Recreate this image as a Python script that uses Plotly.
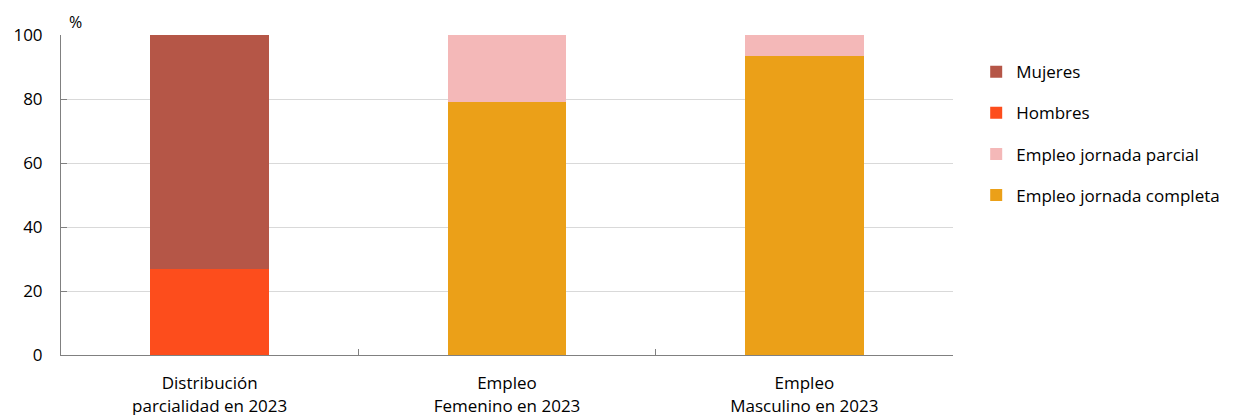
import plotly.graph_objects as go

categories = ["Distribución<br>parcialidad en 2023", "Empleo<br>Femenino en 2023", "Empleo<br>Masculino en 2023"]
hombres = [27, None, None]
mujeres = [73, None, None]
completa = [None, 79, 93.5]
parcial = [None, 21, 6.5]
y_ticks = [0, 20, 40, 60, 80, 100]

font = "'Open Sans', sans-serif"
fig = go.Figure()
series = [
    ("Hombres", hombres, "#FD4D1C", 2),
    ("Mujeres", mujeres, "#B55647", 1),
    ("Empleo jornada completa", completa, "#EBA018", 4),
    ("Empleo jornada parcial", parcial, "#F4B8B8", 3),
]
for name, vals, col, rank in series:
    fig.add_trace(go.Bar(x=categories, y=vals, name=name, marker_color=col,
                         marker_line_width=0, width=0.4, legendrank=rank,
                         legendgroup=name))

fig.update_layout(
    barmode="stack",
    width=1225, height=407,
    margin=dict(l=53, r=280, t=27, b=60, autoexpand=False),
    plot_bgcolor="white", paper_bgcolor="white",
    font=dict(family=font, size=17, color="#000"),
    legend=dict(x=1.026, xanchor="left", y=0.94, yanchor="top",
                traceorder="grouped", tracegroupgap=16,
                font=dict(size=17)),
    xaxis=dict(showline=True, linecolor="#808080", linewidth=1,
               ticks="inside", tickson="boundaries", ticklen=6, tickcolor="#808080",
               showgrid=False, ticklabelstandoff=13, automargin=False),
    yaxis=dict(range=[0, 100], tickvals=y_ticks, showline=True, linecolor="#808080",
               ticks="inside", ticklen=6, tickcolor="#808080",
               gridcolor="#d9d9d9", gridwidth=1, zeroline=False,
               ticklabelstandoff=14, automargin=False),
    annotations=[dict(text="%", x=0, xref="paper", xanchor="left", xshift=6,
                      y=100, yref="y", yanchor="bottom", yshift=0,
                      showarrow=False, font=dict(size=16))],
)
fig.write_html("out.html")
